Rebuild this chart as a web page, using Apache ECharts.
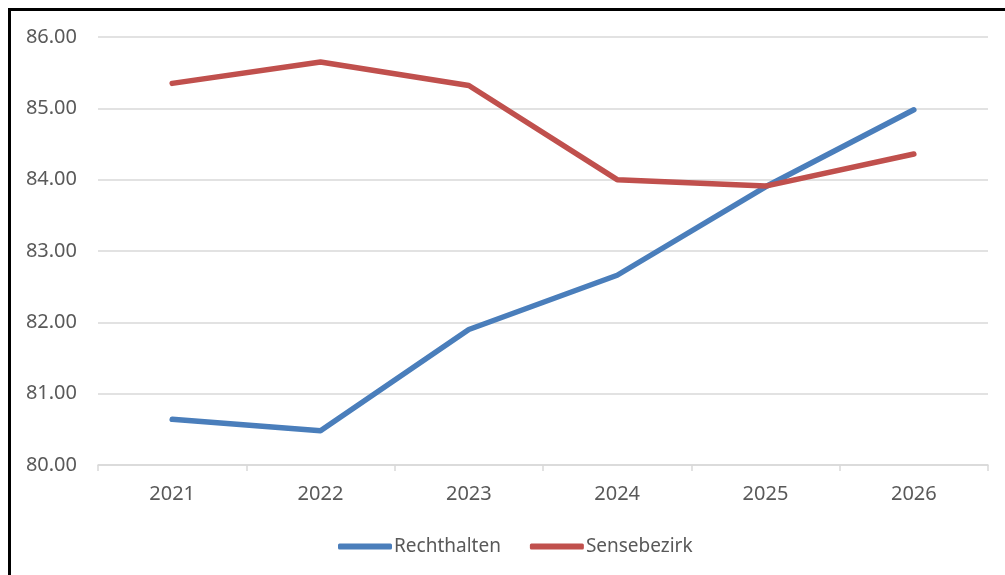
<!DOCTYPE html>
<html>
<head>
<meta charset="utf-8">
<script src="https://cdn.jsdelivr.net/npm/echarts@6/dist/echarts.min.js"></script>
<style>
html,body{margin:0;padding:0;background:#fff;}
#frame{position:absolute;left:8px;top:8px;width:997px;height:567px;border-left:3px solid #000;border-top:3px solid #000;box-sizing:border-box;}
#chart{position:absolute;left:0;top:0;width:1005px;height:575px;}
</style>
</head>
<body>
<div id="frame"></div>
<div id="chart"></div>
<script>
const categories = ['2021', '2022', '2023', '2024', '2025', '2026'];
const rechthalten = [80.64, 80.48, 81.90, 82.66, 83.90, 84.98];
const sensebezirk = [85.35, 85.65, 85.32, 84.00, 83.91, 84.36];
const seriesNames = ['Rechthalten', 'Sensebezirk'];

const chart = echarts.init(document.getElementById('chart'), null, {renderer: 'canvas'});
const font = 'Noto Sans';
chart.setOption({
  animation: false,
  backgroundColor: 'transparent',
  grid: {left: 98, right: 17, top: 37, bottom: 110, containLabel: false},
  xAxis: {
    type: 'category',
    data: categories,
    boundaryGap: true,
    axisLine: {lineStyle: {color: '#d9d9d9', width: 1.5}},
    axisTick: {show: true, length: 6, inside: false, lineStyle: {color: '#d9d9d9', width: 1.5}},
    axisLabel: {color: '#595959', fontFamily: font, fontSize: 20, margin: 19}
  },
  yAxis: {
    type: 'value',
    min: 80, max: 86, interval: 1,
    axisLine: {show: false},
    axisTick: {show: false},
    splitLine: {lineStyle: {color: '#d9d9d9', width: 1.5}},
    axisLabel: {color: '#595959', fontFamily: font, fontSize: 20, margin: 21,
      formatter: v => v.toFixed(2)}
  },
  legend: {
    left: 333, top: 532,
    itemWidth: 54, itemHeight: 6, itemGap: 29,
    icon: 'roundRect',
    textStyle: {color: '#595959', fontFamily: font, fontSize: 19, padding: [0,0,0,-3]},
    data: seriesNames
  },
  series: [
    {name: seriesNames[0], type: 'line', data: rechthalten, symbol: 'none',
     color: '#4a7ebb', lineStyle: {width: 5.5, color: '#4a7ebb', cap: 'round', join: 'round'}},
    {name: seriesNames[1], type: 'line', data: sensebezirk, symbol: 'none',
     color: '#c0504d', lineStyle: {width: 5.5, color: '#c0504d', cap: 'round', join: 'round'}}
  ]
});
</script>
</body>
</html>
